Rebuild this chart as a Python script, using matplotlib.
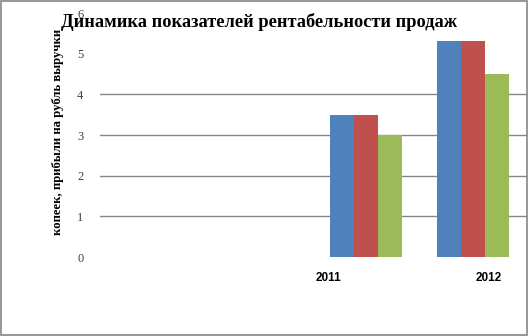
import matplotlib
matplotlib.use("Agg")
import matplotlib.pyplot as plt
import numpy as np

years = ["2011", "2012"]
series_a = [3.5, 5.3]   # blue
series_b = [3.5, 5.3]   # red
series_c = [3.0, 4.5]   # green
colors = ["#4f81bd", "#c0504d", "#9bbb59"]

title = "Динамика показателей рентабельности продаж"
ylabel = "копеек, прибыли на рубль выручки"

fig = plt.figure(figsize=(5.28, 3.36), dpi=100)
ax = fig.add_axes([100 / 528, (336 - 257) / 336, 427 / 528, 244 / 336])

x = np.arange(len(years))
w = 0.224
for k, (vals, c) in enumerate(zip([series_a, series_b, series_c], colors)):
    ax.bar(x + (k - 1) * w, vals, width=w, color=c, zorder=2)

ax.set_ylim(0, 6)
ax.set_xlim(-2.486, -2.486 + 427 / 107)
ax.set_yticks(range(7))
ax.set_yticklabels([str(i) for i in range(7)], family="Liberation Serif",
                   fontsize=9, color="#404040")
ax.tick_params(axis="y", length=0, pad=12)
for v in range(1, 5):
    ax.axhline(v, color="#868686", lw=1.0, zorder=1)

# category labels sit off-centre in the original
ax.set_xticks([x[0] - 0.355, x[1] + 0.15])
ax.set_xticklabels(years, family="Liberation Sans", fontweight="bold", fontsize=8.5)
ax.tick_params(axis="x", length=0, pad=11)

for s in ax.spines.values():
    s.set_visible(False)

ax.set_ylabel(ylabel, family="Liberation Serif", fontweight="bold", fontsize=9.2)
ax.yaxis.set_label_coords((64 - 100) / 427, (257 - 132) / 244)

fig.text(259 / 528, 1 - 22 / 336, title, family="Liberation Serif", fontweight="bold",
         fontsize=13.2, ha="center", va="center")

fig.patches.append(plt.Rectangle((0.001, 0.002), 0.997, 0.996, transform=fig.transFigure,
                                 fill=False, edgecolor="#868686", lw=1.2))

fig.savefig("out.png", dpi=100)
